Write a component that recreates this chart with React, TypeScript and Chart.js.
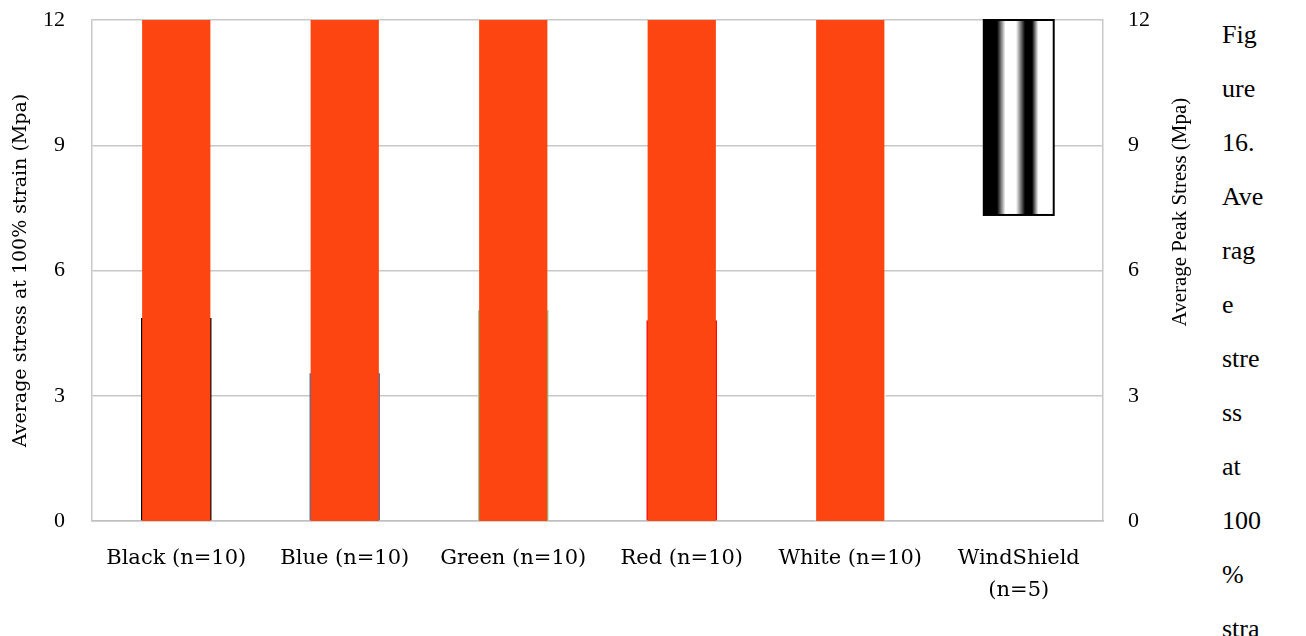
import React, { useEffect, useRef } from "react";
import { Chart, registerables } from "chart.js";
Chart.register(...registerables);

const categories: (string | string[])[] = [
  "Black (n=10)",
  "Blue (n=10)",
  "Green (n=10)",
  "Red (n=10)",
  "White (n=10)",
  ["WindShield", "(n=5)"],
];
const stressAt100: (number | null)[] = [4.86, 3.54, 5.05, 4.8, 4.5, null];
const stressColors = ["#000000", "#4A6FA5", "#7FD89C", "#FF0000", "#FFFFFF", "#FFFFFF"];
const peakStress: (number | null)[] = [14.5, 14.2, 14.8, 14.1, 15.0, null];
const windshieldRange: ([number, number] | null)[] = [null, null, null, null, null, [7.33, 12]];
const axisTicks = [0, 3, 6, 9, 12];
const rightTitle = "Average Peak Stress (Mpa)";
const captionLines = ["Fig", "ure", "16.", "Ave", "rag", "e", "stre", "ss", "at", "100", "%", "stra"];

const CANVAS_W = 1210;
const CANVAS_H = 636;

const stripePlugin = {
  id: "stripe",
  afterDatasetDraw(chart: any, args: any) {
    if (args.index !== 2) return;
    const ctx = chart.ctx;
    const area = chart.chartArea;
    args.meta.data.forEach((el: any, i: number) => {
      if (windshieldRange[i] == null) return;
      const { x, y, base, width } = el.getProps(["x", "y", "base", "width"], true);
      const left = x - width / 2;
      const top = Math.min(y, base);
      const h = Math.abs(base - y);
      ctx.save();
      ctx.beginPath();
      ctx.rect(area.left - 2, area.top - 2, area.width + 4, area.height + 4);
      ctx.clip();
      const g = ctx.createLinearGradient(left, 0, left + width, 0);
      g.addColorStop(0, "#000");
      g.addColorStop(0.19, "#000");
      g.addColorStop(0.31, "#fff");
      g.addColorStop(0.46, "#fff");
      g.addColorStop(0.59, "#000");
      g.addColorStop(0.69, "#000");
      g.addColorStop(0.78, "#fff");
      g.addColorStop(1, "#fff");
      ctx.fillStyle = g;
      ctx.fillRect(left, top, width, h);
      ctx.lineWidth = 2;
      ctx.strokeStyle = "#000";
      ctx.strokeRect(left, top, width, h);
      ctx.restore();
    });
  },
};

// Right axis title reads bottom-to-top, placed a little above the middle.
const rightTitlePlugin = {
  id: "rightTitle",
  afterDraw(chart: any) {
    const ctx = chart.ctx;
    const s = chart.scales.y1;
    const yMid = s.getPixelForValue(7.4);
    ctx.save();
    ctx.translate(s.right - 30, yMid);
    ctx.rotate(-Math.PI / 2);
    ctx.font = "21px 'Liberation Serif'";
    ctx.fillStyle = "#000";
    ctx.textAlign = "center";
    ctx.textBaseline = "middle";
    ctx.fillText(rightTitle, 0, 0);
    ctx.restore();
  },
};

export default function App() {
  const ref = useRef<HTMLCanvasElement | null>(null);
  useEffect(() => {
    if (!ref.current) return;
    const chart = new Chart(ref.current, {
      type: "bar",
      data: {
        labels: categories,
        datasets: [
          {
            label: "Average stress at 100% strain",
            data: stressAt100,
            backgroundColor: stressColors,
            yAxisID: "y",
            grouped: false,
            order: 2,
            categoryPercentage: 1,
            barPercentage: 0.418,
          },
          {
            label: "Average Peak Stress",
            data: peakStress,
            backgroundColor: "#FD4512",
            yAxisID: "y1",
            grouped: false,
            order: 1,
            categoryPercentage: 1,
            barPercentage: 0.405,
          },
          {
            label: "WindShield",
            data: windshieldRange as any,
            backgroundColor: "rgba(0,0,0,0)",
            yAxisID: "y1",
            grouped: false,
            order: 0,
            categoryPercentage: 1,
            barPercentage: 0.415,
          },
        ],
      },
      options: {
        responsive: false,
        animation: false,
        layout: { padding: { top: 20, left: 0, right: 0, bottom: 0 } },
        plugins: { legend: { display: false }, tooltip: { enabled: false } },
        scales: {
          x: {
            grid: { display: false },
            border: { display: true, color: "#BFBFBF", width: 1.5 },
            ticks: {
              font: { family: "DejaVu Serif", size: 21, lineHeight: 1.5 },
              color: "#000",
              padding: 14,
              maxRotation: 0,
              autoSkip: false,
            },
            afterFit(s: any) {
              s.height = 115;
            },
          },
          y: {
            position: "left",
            min: 0,
            max: 12,
            afterBuildTicks(s: any) {
              s.ticks = axisTicks.map((v) => ({ value: v }));
            },
            ticks: { font: { family: "Liberation Serif", size: 22 }, color: "#000", padding: 27 },
            grid: { color: "#C8C8C8", drawTicks: false, lineWidth: 1.5 },
            border: { display: true, color: "#C8C8C8", width: 1.5 },
            title: {
              display: true,
              text: "Average stress at 100% strain (Mpa)",
              font: { family: "DejaVu Serif", size: 19 },
              color: "#000",
              padding: { top: 10, bottom: 0 },
            },
            afterFit(s: any) {
              s.width = 92;
              s.paddingTop = 0;
              s.paddingBottom = 0;
            },
          },
          y1: {
            position: "right",
            min: 0,
            max: 12,
            afterBuildTicks(s: any) {
              s.ticks = axisTicks.map((v) => ({ value: v }));
            },
            ticks: { font: { family: "Liberation Serif", size: 22 }, color: "#000", padding: 25 },
            grid: { display: false, drawTicks: false },
            border: { display: true, color: "#C8C8C8", width: 1.5 },
            title: { display: false },
            afterFit(s: any) {
              s.width = CANVAS_W - 1103;
              s.paddingTop = 0;
              s.paddingBottom = 0;
            },
          },
        },
      },
      plugins: [stripePlugin, rightTitlePlugin],
    });
    return () => chart.destroy();
  }, []);

  return (
    <div style={{ position: "absolute", left: 0, top: 0, width: 1306, height: 636, overflow: "hidden", background: "#fff" }}>
      <canvas ref={ref} width={CANVAS_W} height={CANVAS_H} style={{ position: "absolute", left: 0, top: 0 }} />
      <div
        style={{
          position: "absolute",
          left: 1222,
          top: 8,
          fontFamily: "'Liberation Serif', serif",
          fontSize: 26,
          lineHeight: "54px",
          color: "#000",
        }}
      >
        {captionLines.map((l, i) => (
          <div key={i}>{l}</div>
        ))}
      </div>
    </div>
  );
}
